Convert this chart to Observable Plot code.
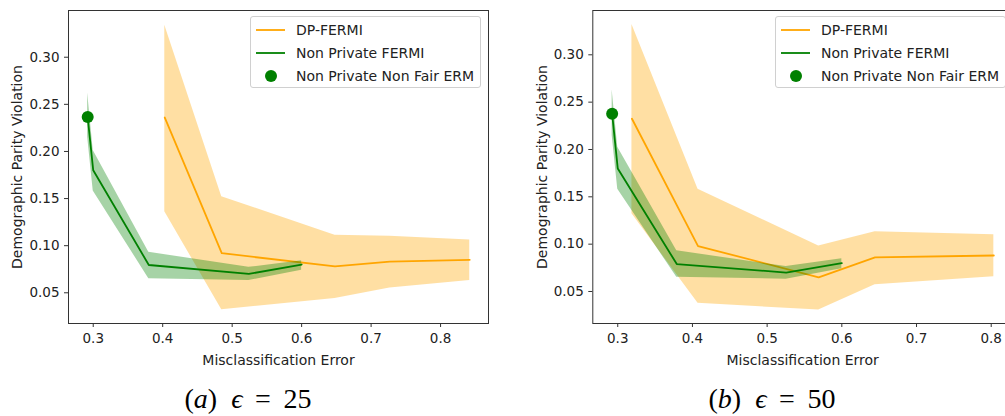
<!DOCTYPE html>
<html>
<head>
<meta charset="utf-8">
<script src="https://cdn.jsdelivr.net/npm/d3@7"></script>
<script src="https://cdn.jsdelivr.net/npm/@observablehq/plot@0.6"></script>
<style>
  html, body { margin: 0; padding: 0; background: #fff; overflow: hidden; }
  #fig { position: relative; width: 1005px; height: 416px; overflow: hidden; font-family: "DejaVu Sans", sans-serif; }
  .panel { position: absolute; top: 0; }
  .panel g[aria-label="x-axis label"] text, .panel g[aria-label="y-axis label"] text { font-size: 14px; }
  .legend { position: absolute; width: 229px; height: 70px; border: 1px solid #d0d0d0; border-radius: 3px;
            background: rgba(255,255,255,0.85); font-family: "DejaVu Sans", sans-serif; font-size: 14px; color: #222; }
  .legend .row { position: absolute; left: 0; height: 20px; width: 100%; }
  .legend .row span { position: absolute; left: 45px; top: 0; line-height: 20px; white-space: nowrap; }
  .legend .row svg { position: absolute; left: 0; top: 0; }
  .caption { position: absolute; top: 385px; font-family: "Liberation Serif", "DejaVu Serif", serif; font-size: 28px;
             line-height: 28px; white-space: nowrap; transform: translateX(-50%); color: #000; }
</style>
</head>
<body>
<div id="fig"></div>
<script>
// ---- data ----
const seriesNames = ["DP-FERMI", "Non Private FERMI", "Non Private Non Fair ERM"];
const xTicks = [0.3, 0.4, 0.5, 0.6, 0.7, 0.8];
const yTicks = [0.05, 0.10, 0.15, 0.20, 0.25, 0.30];

// Panel (a) epsilon = 25
const a_dp_x  = [0.403, 0.485, 0.648, 0.727, 0.842];
const a_dp_y  = [0.236, 0.092, 0.078, 0.083, 0.085];
const a_dp_lo = [0.136, 0.032, 0.044, 0.055, 0.063];
const a_dp_hi = [0.334, 0.152, 0.111, 0.110, 0.106];

const a_fe_x  = [0.292, 0.300, 0.380, 0.524, 0.600];
const a_fe_y  = [0.2365, 0.180, 0.0795, 0.070, 0.080];
const a_fe_lo = [0.215, 0.158, 0.065, 0.063, 0.074];
const a_fe_hi = [0.262, 0.201, 0.093, 0.077, 0.084];

const a_erm_x = [0.292];
const a_erm_y = [0.2365];

// Panel (b) epsilon = 50
const b_dp_x  = [0.319, 0.4075, 0.569, 0.6445, 0.8035];
const b_dp_y  = [0.2325, 0.098, 0.065, 0.086, 0.088];
const b_dp_lo = [0.132, 0.0375, 0.0305, 0.057, 0.0657];
const b_dp_hi = [0.332, 0.158, 0.098, 0.113, 0.110];

const b_fe_x  = [0.2925, 0.300, 0.379, 0.5255, 0.600];
const b_fe_y  = [0.2377, 0.180, 0.079, 0.070, 0.080];
const b_fe_lo = [0.215, 0.158, 0.065, 0.063, 0.074];
const b_fe_hi = [0.263, 0.2024, 0.093, 0.0763, 0.0845];

const b_erm_x = [0.2925];
const b_erm_y = [0.2377];

const captions = [["a", "25"], ["b", "50"]];

// ---- build ----
const ORANGE = "orange", GREEN = "green";
const rows = (xs, ys, lo, hi) => xs.map((x, i) => ({x, y: ys[i], lo: lo ? lo[i] : null, hi: hi ? hi[i] : null}));

function panel({dp, fe, erm, xd, yd, width, ml, mr}) {
  return Plot.plot({
    width, height: 375,
    marginLeft: ml, marginRight: mr, marginTop: 10, marginBottom: 52,
    style: {fontFamily: "DejaVu Sans", fontSize: "13.5px", color: "#222", background: "transparent", overflow: "visible"},
    x: {domain: xd, ticks: xTicks, tickFormat: d => d.toFixed(1)},
    y: {domain: yd, ticks: yTicks, tickFormat: d => d.toFixed(2)},
    marks: [
      Plot.areaY(dp, {x: "x", y1: "lo", y2: "hi", fill: ORANGE, fillOpacity: 0.36}),
      Plot.lineY(dp, {x: "x", y: "y", stroke: ORANGE, strokeWidth: 1.8}),
      Plot.areaY(fe, {x: "x", y1: "lo", y2: "hi", fill: GREEN, fillOpacity: 0.35}),
      Plot.lineY(fe, {x: "x", y: "y", stroke: GREEN, strokeWidth: 1.8}),
      Plot.dot(erm, {x: "x", y: "y", r: 6, fill: GREEN, stroke: "none"}),
      Plot.frame({stroke: "#333", strokeWidth: 1}),
      Plot.axisX({tickSize: 4, tickPadding: 6, stroke: "#333", label: "Misclassification Error",
                  labelAnchor: "center", labelArrow: "none", labelOffset: 41}),
      Plot.axisY({tickSize: 4, tickPadding: 5, stroke: "#333", label: "Demographic Parity Violation",
                  labelAnchor: "center", labelArrow: "none", labelOffset: 56})
    ]
  });
}

const fig = document.getElementById("fig");
const panels = [
  {left: 0, legendLeft: 250, cap: 248,
   cfg: {dp: rows(a_dp_x, a_dp_y, a_dp_lo, a_dp_hi), fe: rows(a_fe_x, a_fe_y, a_fe_lo, a_fe_hi), erm: rows(a_erm_x, a_erm_y),
         xd: [0.2644, 0.869], yd: [0.0174, 0.3496], width: 500, ml: 68, mr: 12}},
  {left: 500, legendLeft: 775, cap: 772,
   cfg: {dp: rows(b_dp_x, b_dp_y, b_dp_lo, b_dp_hi), fe: rows(b_fe_x, b_fe_y, b_fe_lo, b_fe_hi), erm: rows(b_erm_x, b_erm_y),
         xd: [0.2666, 0.8285], yd: [0.0162, 0.3468], width: 520, ml: 92.3, mr: 8}}
];

panels.forEach((p, k) => {
  const svg = panel(p.cfg);
  svg.classList.add("panel");
  svg.style.left = p.left + "px";
  fig.appendChild(svg);

  // legend
  const lg = document.createElement("div");
  lg.className = "legend";
  lg.style.left = p.legendLeft + "px";
  lg.style.top = "16px";
  const tops = [3, 25.5, 49];
  seriesNames.forEach((name, i) => {
    const row = document.createElement("div");
    row.className = "row";
    row.style.top = tops[i] + "px";
    const sw = i < 2
      ? `<svg width="40" height="20"><line x1="5" x2="34" y1="10" y2="10" stroke="${i === 0 ? ORANGE : GREEN}" stroke-width="1.8"/></svg>`
      : `<svg width="40" height="20"><circle cx="20" cy="10" r="6" fill="${GREEN}"/></svg>`;
    row.innerHTML = sw + `<span>${name}</span>`;
    lg.appendChild(row);
  });
  fig.appendChild(lg);

  // caption
  const c = document.createElement("div");
  c.className = "caption";
  c.style.left = p.cap + "px";
  const [letter, eps] = captions[k];
  c.innerHTML = `(<i>${letter}</i>)&nbsp;&nbsp;<i>ϵ</i>&thinsp; = &thinsp;${eps}`;
  fig.appendChild(c);
});
</script>
</body>
</html>
